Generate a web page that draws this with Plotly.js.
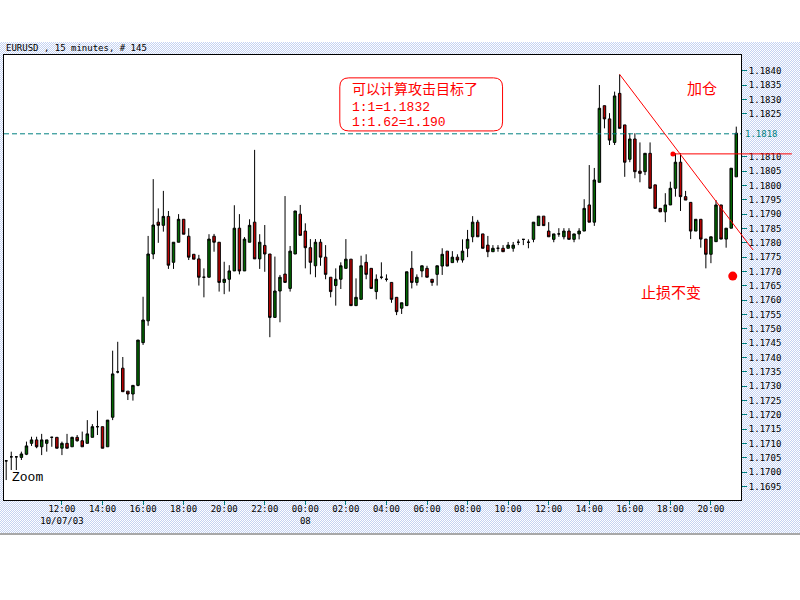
<!DOCTYPE html>
<html>
<head>
<meta charset="utf-8">
<script src="https://cdn.plot.ly/plotly-3.0.1.min.js"></script>
<style>
  html,body{margin:0;padding:0;background:#ffffff;}
  #bg{position:absolute;left:0;top:42px;width:800px;height:491px;
      background:repeating-conic-gradient(#c4d2f2 0% 25%, #ffffff 0% 50%) 0 0/2px 2px;}
  #sep{position:absolute;left:0;top:533px;width:800px;height:2px;background:#a8a8a8;}
  #chart{position:absolute;left:0;top:0;width:800px;height:600px;}
</style>
</head>
<body>
<div id="bg"></div>
<div id="sep"></div>
<div id="chart"></div>
<script>
// ---- data: EURUSD 15-minute bars, 145 bars (10/07/03 09:15 -> 10/08/03 21:15) ----
const opens = [
1.17040,1.17054,1.17054,1.17052,1.17063,1.17101,1.17113,1.17089,1.17101,1.17122,
1.17122,1.17084,1.17101,1.17089,1.17122,1.17110,1.17101,1.17122,1.17159,1.17159,
1.17089,1.17192,1.17350,1.17363,1.17283,1.17273,1.17303,1.17452,1.17528,1.17761,
1.17872,1.17861,1.17892,1.17732,1.17802,1.17882,1.17823,1.17760,1.17744,1.17680,
1.17680,1.17823,1.17802,1.17662,1.17673,1.17702,1.17851,1.17702,1.17802,1.17872,
1.17744,1.17791,1.17761,1.17540,1.17632,1.17691,1.17641,1.17761,1.17900,1.17841,
1.17783,1.17720,1.17802,1.17750,1.17680,1.17651,1.17673,1.17711,1.17743,1.17581,
1.17603,1.17732,1.17711,1.17630,1.17680,1.17673,1.17662,1.17610,1.17572,1.17581,
1.17711,1.17662,1.17702,1.17711,1.17673,1.17690,1.17719,1.17771,1.17731,1.17750,
1.17740,1.17781,1.17821,1.17872,1.17831,1.17792,1.17769,1.17781,1.17781,1.17781,
1.17781,1.17802,1.17812,1.17802,1.17812,1.17860,1.17893,1.17841,1.17812,1.17831,
1.17821,1.17841,1.17812,1.17831,1.17841,1.17932,1.17872,1.18011,1.18278,1.18232,
1.18150,1.18321,1.18211,1.18091,1.18162,1.18050,1.18048,1.18112,1.18002,1.17920,
1.17908,1.17932,1.17990,1.18081,1.17961,1.17941,1.17841,1.17882,1.17813,1.17760,
1.17804,1.17932,1.17813,1.17851,1.18030];
const highs = [
1.17043,1.17072,1.17056,1.17072,1.17107,1.17124,1.17124,1.17134,1.17113,1.17124,
1.17122,1.17107,1.17134,1.17124,1.17130,1.17142,1.17182,1.17168,1.17215,1.17159,
1.17182,1.17424,1.17455,1.17402,1.17283,1.17304,1.17461,1.17612,1.17824,1.18022,
1.17920,1.17981,1.17911,1.17802,1.17900,1.17882,1.17851,1.17760,1.17758,1.17711,
1.17830,1.17831,1.17802,1.17734,1.17722,1.17931,1.17900,1.17820,1.17882,1.18124,
1.17830,1.17862,1.17761,1.17752,1.17688,1.17963,1.17789,1.17911,1.17932,1.17868,
1.17813,1.17813,1.17813,1.17792,1.17680,1.17711,1.17732,1.17813,1.17743,1.17676,
1.17755,1.17760,1.17711,1.17690,1.17732,1.17690,1.17662,1.17610,1.17591,1.17699,
1.17771,1.17690,1.17720,1.17720,1.17673,1.17720,1.17781,1.17771,1.17771,1.17760,
1.17812,1.17845,1.17893,1.17880,1.17831,1.17824,1.17792,1.17792,1.17792,1.17803,
1.17803,1.17812,1.17812,1.17812,1.17872,1.17893,1.17893,1.17872,1.17831,1.17851,
1.17851,1.17851,1.17831,1.17851,1.17952,1.18071,1.18061,1.18350,1.18278,1.18252,
1.18327,1.18387,1.18211,1.18182,1.18182,1.18150,1.18112,1.18150,1.18002,1.17920,
1.17973,1.18013,1.18112,1.18112,1.17981,1.17941,1.17882,1.17882,1.17813,1.17821,
1.17949,1.17932,1.17851,1.18060,1.18205];
const lows = [
1.16973,1.17008,1.17008,1.17043,1.17060,1.17092,1.17084,1.17060,1.17072,1.17089,
1.17084,1.17060,1.17084,1.17089,1.17107,1.17089,1.17101,1.17122,1.17130,1.17084,
1.17089,1.17182,1.17345,1.17281,1.17252,1.17250,1.17300,1.17444,1.17511,1.17743,
1.17800,1.17839,1.17709,1.17709,1.17802,1.17830,1.17740,1.17743,1.17651,1.17610,
1.17680,1.17769,1.17630,1.17621,1.17630,1.17702,1.17690,1.17702,1.17802,1.17744,
1.17709,1.17699,1.17471,1.17540,1.17523,1.17662,1.17630,1.17761,1.17826,1.17711,
1.17690,1.17680,1.17720,1.17673,1.17610,1.17581,1.17639,1.17711,1.17581,1.17581,
1.17603,1.17673,1.17641,1.17603,1.17673,1.17665,1.17591,1.17548,1.17552,1.17581,
1.17641,1.17651,1.17680,1.17680,1.17650,1.17651,1.17688,1.17719,1.17731,1.17731,
1.17731,1.17750,1.17802,1.17821,1.17781,1.17750,1.17769,1.17769,1.17769,1.17781,
1.17769,1.17792,1.17792,1.17781,1.17802,1.17860,1.17860,1.17821,1.17802,1.17821,
1.17812,1.17812,1.17802,1.17812,1.17841,1.17872,1.17859,1.18011,1.18199,1.18141,
1.18141,1.18199,1.18030,1.18081,1.18025,1.18011,1.18036,1.17990,1.17920,1.17908,
1.17872,1.17932,1.17961,1.17911,1.17949,1.17813,1.17841,1.17783,1.17711,1.17729,
1.17804,1.17813,1.17783,1.17851,1.18030];
const closes = [
1.17040,1.17054,1.17054,1.17064,1.17092,1.17113,1.17089,1.17113,1.17113,1.17122,
1.17084,1.17101,1.17084,1.17122,1.17110,1.17089,1.17134,1.17159,1.17159,1.17084,
1.17182,1.17343,1.17350,1.17281,1.17273,1.17303,1.17461,1.17531,1.17761,1.17862,
1.17861,1.17892,1.17722,1.17802,1.17882,1.17830,1.17750,1.17743,1.17680,1.17680,
1.17813,1.17802,1.17662,1.17673,1.17702,1.17851,1.17702,1.17813,1.17861,1.17744,
1.17802,1.17761,1.17540,1.17632,1.17680,1.17662,1.17771,1.17911,1.17826,1.17783,
1.17732,1.17802,1.17750,1.17690,1.17630,1.17673,1.17720,1.17743,1.17581,1.17610,
1.17720,1.17690,1.17641,1.17673,1.17680,1.17673,1.17603,1.17560,1.17591,1.17699,
1.17662,1.17680,1.17720,1.17680,1.17662,1.17720,1.17760,1.17719,1.17750,1.17740,
1.17771,1.17812,1.17872,1.17821,1.17781,1.17769,1.17781,1.17781,1.17769,1.17792,
1.17792,1.17802,1.17812,1.17802,1.17872,1.17893,1.17860,1.17821,1.17831,1.17831,
1.17841,1.17812,1.17831,1.17841,1.17920,1.17872,1.18019,1.18269,1.18232,1.18158,
1.18312,1.18199,1.18081,1.18162,1.18048,1.18042,1.18112,1.17990,1.17920,1.17908,
1.17932,1.17990,1.18081,1.17961,1.17949,1.17841,1.17882,1.17813,1.17760,1.17821,
1.17932,1.17813,1.17851,1.18060,1.18182];

// x tick labels (bar index where each label sits)
const xTickIdx  = [11,19,27,35,43,51,59,67,75,83,91,99,107,115,123,131,139];
const xTickText = ["12:00<br>10/07/03","14:00","16:00","18:00","20:00","22:00","00:00<br>08",
                   "02:00","04:00","06:00","08:00","10:00","12:00","14:00","16:00","18:00","20:00"];
// y tick labels (1.1815 / 1.1820 are replaced by the current-price label 1.1818)
const yTickVals = [1.1695,1.1700,1.1705,1.1710,1.1715,1.1720,1.1725,1.1730,1.1735,1.1740,
                   1.1745,1.1750,1.1755,1.1760,1.1765,1.1770,1.1775,1.1780,1.1785,1.1790,
                   1.1795,1.1800,1.1805,1.1810,1.1825,1.1830,1.1835,1.1840];
const yTickText = ["1.1695","1.1700","1.1705","1.1710","1.1715","1.1720","1.1725","1.1730","1.1735","1.1740",
                   "1.1745","1.1750","1.1755","1.1760","1.1765","1.1770","1.1775","1.1780","1.1785","1.1790",
                   "1.1795","1.1800","1.1805","1.1810","1.1825","1.1830","1.1835","1.1840"];

// annotation levels / points
const currentLevel = 1.1818;           // dashed line
const currentLabel = "1.1818";
const addLevel = 1.1811;               // red horizontal line (加仓)
const addStartIdx = 131.5;
const trendStart = {x:121, y:1.18387}; // red trend line
const trendEnd   = {x:147.3, y:1.17775};
const stopPoint  = {x:143.3, y:1.17684};
const boxLines = ["可以计算攻击目标了","1:1=1.1832","1:1.62=1.190"];
const boxLineY = [1.18340, 1.18273, 1.18218];
const boxTextX = 68.0;
const boxRange = {x0:65.8, x1:97.9, y0:1.18190, y1:1.18375};

const xRange = [-0.43, 144.93];
const yRange = [1.169035, 1.184547];

const idx = opens.map((_, i) => i);

const W = 737, H = 445; // plot area px
const px = x => (x - xRange[0]) / (xRange[1] - xRange[0]);
const py = y => (y - yRange[0]) / (yRange[1] - yRange[0]);

// rounded rectangle path in paper coords
const bx0 = px(boxRange.x0), bx1 = px(boxRange.x1), by0 = py(boxRange.y0), by1 = py(boxRange.y1);
const rx = 9 / W, ry = 9 / H;
const boxPath = `M ${bx0+rx},${by1} L ${bx1-rx},${by1} Q ${bx1},${by1} ${bx1},${by1-ry} L ${bx1},${by0+ry} Q ${bx1},${by0} ${bx1-rx},${by0} L ${bx0+rx},${by0} Q ${bx0},${by0} ${bx0},${by0+ry} L ${bx0},${by1-ry} Q ${bx0},${by1} ${bx0+rx},${by1} Z`;

const mono = "DejaVu Sans Mono, monospace";
const lmono = "Liberation Mono, monospace";
const cjk = "Noto Sans CJK SC, sans-serif";

const traces = [
  {
    type: 'candlestick', x: idx, open: opens, high: highs, low: lows, close: closes,
    increasing: {fillcolor: '#006800', line: {color: '#000000', width: 1}},
    decreasing: {fillcolor: '#bb0000', line: {color: '#000000', width: 1}},
    whiskerwidth: 0, hoverinfo: 'skip', showlegend: false
  },
  {
    type: 'scatter', mode: 'markers', x: [addStartIdx], y: [addLevel],
    marker: {color: '#ff0000', size: 5}, cliponaxis: false, hoverinfo: 'skip', showlegend: false
  },
  {
    type: 'scatter', mode: 'markers', x: [stopPoint.x], y: [stopPoint.y],
    marker: {color: '#ff0000', size: 9}, cliponaxis: false, hoverinfo: 'skip', showlegend: false
  }
];

const layout = {
  width: 800, height: 600,
  margin: {l: 4, r: 59, t: 55, b: 100, pad: 0},
  paper_bgcolor: 'rgba(0,0,0,0)', plot_bgcolor: '#ffffff',
  showlegend: false,
  xaxis: {
    type: 'linear', range: xRange, rangeslider: {visible: false},
    tickmode: 'array', tickvals: xTickIdx, ticktext: xTickText,
    ticks: 'outside', ticklen: 4, tickcolor: '#008080', tickwidth: 1,
    ticklabelstandoff: -4,
    tickfont: {family: mono, size: 9, color: '#000000'},
    showgrid: false, zeroline: false,
    showline: true, linecolor: '#000000', linewidth: 1, mirror: true
  },
  yaxis: {
    range: yRange, side: 'right',
    tickmode: 'array', tickvals: yTickVals, ticktext: yTickText,
    ticks: 'outside', ticklen: 5, tickcolor: '#008080', tickwidth: 1,
    tickfont: {family: mono, size: 9, color: '#000000'},
    showgrid: false, zeroline: false,
    showline: true, linecolor: '#000000', linewidth: 1, mirror: true
  },
  shapes: [
    {type: 'line', xref: 'paper', yref: 'y', x0: 0, x1: 1, y0: currentLevel, y1: currentLevel,
     line: {color: '#008080', width: 1, dash: '5px,3px'}},
    {type: 'line', xref: 'paper', yref: 'y', x0: px(addStartIdx), x1: 1.069, y0: addLevel, y1: addLevel,
     line: {color: '#ff0000', width: 1}},
    {type: 'line', xref: 'paper', yref: 'y', x0: px(trendStart.x), x1: px(trendEnd.x),
     y0: trendStart.y, y1: trendEnd.y, line: {color: '#ff0000', width: 1}},
    {type: 'path', xref: 'paper', yref: 'paper', path: boxPath,
     fillcolor: '#ffffff', line: {color: '#ff0000', width: 1}}
  ],
  annotations: [
    {xref: 'paper', yref: 'paper', x: 0, y: 1, xanchor: 'left', yanchor: 'bottom', showarrow: false,
     text: 'EURUSD , 15 minutes, # 145', font: {family: mono, size: 9, color: '#000000'}},
    {xref: 'paper', yref: 'paper', x: 6 / W, y: 23 / H, xanchor: 'left', yanchor: 'middle', showarrow: false,
     text: 'Zoom', font: {family: lmono, size: 13, color: '#000000'}},
    {xref: 'paper', yref: 'y', x: 1, y: currentLevel, xanchor: 'left', yanchor: 'middle', showarrow: false,
     xshift: 2, text: currentLabel, font: {family: mono, size: 9, color: '#008080'}},
    {xref: 'x', yref: 'y', x: 137.2, y: 1.18340, showarrow: false, xanchor: 'center', yanchor: 'middle',
     text: '加仓', font: {family: cjk, size: 15, color: '#ff0000'}},
    {xref: 'x', yref: 'y', x: 131.1, y: 1.17629, showarrow: false, xanchor: 'center', yanchor: 'middle',
     text: '止损不变', font: {family: cjk, size: 15, color: '#ff0000'}},
    {xref: 'x', yref: 'y', x: boxTextX, y: boxLineY[0], showarrow: false, xanchor: 'left', yanchor: 'middle',
     borderpad: 0, text: boxLines[0], font: {family: cjk, size: 14, color: '#ff0000'}},
    {xref: 'x', yref: 'y', x: boxTextX, y: boxLineY[1], showarrow: false, xanchor: 'left', yanchor: 'middle',
     borderpad: 0, text: boxLines[1], font: {family: lmono, size: 13, color: '#ff0000'}},
    {xref: 'x', yref: 'y', x: boxTextX, y: boxLineY[2], showarrow: false, xanchor: 'left', yanchor: 'middle',
     borderpad: 0, text: boxLines[2], font: {family: lmono, size: 13, color: '#ff0000'}}
  ]
};

Plotly.newPlot('chart', traces, layout, {displayModeBar: false, staticPlot: true});
</script>
</body>
</html>
